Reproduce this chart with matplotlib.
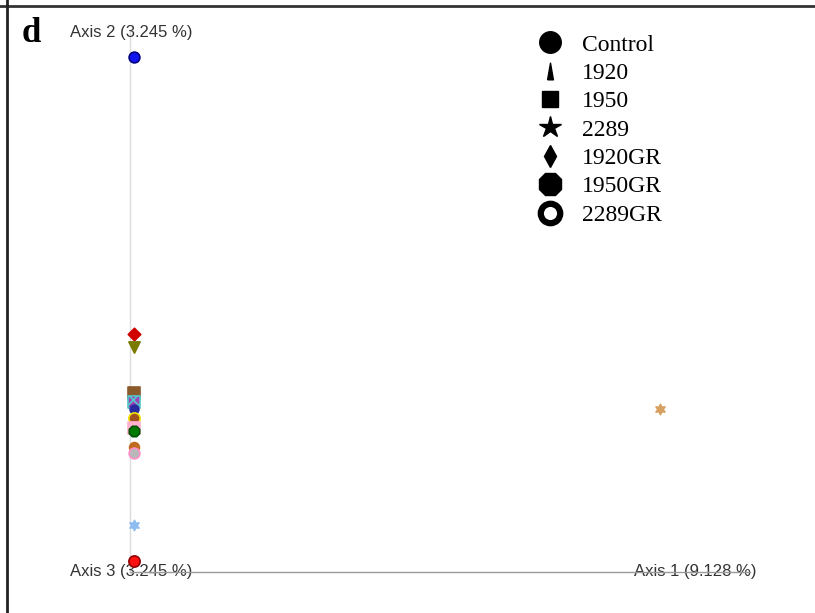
import matplotlib
matplotlib.use("Agg")
import matplotlib.pyplot as plt
from matplotlib.lines import Line2D

# PCoA sample coordinates (axis 1, axis 2)
sample_x = [0.006, 0.006, 0.006, 0.006, 0.006, 0.006, 0.006, 0.006, 0.006,
            0.006, 0.006, 0.006, 0.006, 0.855]
sample_y = [0.831, 0.384, 0.363, 0.289, 0.274, 0.263, 0.248, 0.232, 0.227,
            0.202, 0.192, 0.076, 0.018, 0.263]
sample_marker = ['o', 'D', 'v', 's', 's', 'o', 'o', 's', '8',
                 'o', 'o', (6, 1, 0), 'o', (6, 1, 0)]
sample_face = ['#1414f0', '#d00000', '#7a7a00', '#8b5a2b', '#a040b8', '#2a2aa0',
               '#a0521d', '#ffb0d0', '#007a00', '#c06a20', '#b8b8b8', '#8cbcf0',
               '#ff1010', '#d8a060']
sample_edge = ['#000080', '#d00000', '#7a7a00', '#8b5a2b', '#50c8c8', '#2a2aa0',
               '#f0e000', '#ffb0d0', '#005000', '#c06a20', '#ff90c8', '#8cbcf0',
               '#900000', '#d8a060']
sample_size = [60, 40, 65, 70, 70, 40, 65, 65, 65, 50, 60, 55, 65, 55]

legend_labels = ['Control', '1920', '1950', '2289', '1920GR', '1950GR', '2289GR']
axis_labels = ['Axis 1 (9.128 %)', 'Axis 2 (3.245 %)', 'Axis 3 (3.245 %)']

plt.rcParams['hatch.linewidth'] = 1.2

fig = plt.figure(figsize=(8.15, 6.13), dpi=100)
ax = fig.add_axes([0, 0, 1, 1])
ax.set_xlim(-130 / 620, 685 / 620)
ax.set_ylim(-41 / 620, 572 / 620)
ax.axis('off')

# axes of the ordination
ax.plot([0, 0], [0, 0.874], color='#dcdcdc', lw=1, zorder=1)
ax.plot([0, 1.0], [0, 0], color='#9a9a9a', lw=1, zorder=4)

for x, y, m, fc, ec, s in zip(sample_x, sample_y, sample_marker,
                              sample_face, sample_edge, sample_size):
    kw = {}
    if fc == '#a040b8':
        kw['hatch'] = 'x'
    ax.scatter(x, y, marker=m, s=s, facecolor=fc, edgecolor=ec,
               linewidths=1.2, zorder=3, **kw)

label_font = dict(ha='center', va='center', fontsize=12, color='#333333',
                  family='Liberation Sans')
ax.text(0.002, 0.870, axis_labels[1], **label_font)
ax.text(0.002, 0.0016, axis_labels[2], zorder=2, **label_font)
ax.text(0.911, 0.0016, axis_labels[0], zorder=2, **label_font)

# shape legend
thin_tri = [(-0.35, -1), (0.35, -1), (0, 1), (-0.35, -1)]
handles = [
    Line2D([], [], ls='None', marker='o', color='k', markersize=15.5),
    Line2D([], [], ls='None', marker=thin_tri, color='k', markersize=12),
    Line2D([], [], ls='None', marker='s', color='k', markersize=12),
    Line2D([], [], ls='None', marker='*', color='k', markersize=16),
    Line2D([], [], ls='None', marker='d', color='k', markersize=11),
    Line2D([], [], ls='None', marker='8', color='k', markersize=17),
    Line2D([], [], ls='None', marker='o', markerfacecolor='white',
           markeredgecolor='k', markeredgewidth=4.5, markersize=14),
]
leg = ax.legend(handles, legend_labels, loc='upper left',
                bbox_to_anchor=(536 / 815, 1 - 34 / 613), frameon=False,
                prop={'family': 'Liberation Serif', 'size': 17},
                handlelength=1.2, handletextpad=0.75, labelspacing=0.29,
                borderpad=0, borderaxespad=0)

fig.text(22 / 815, 1 - 33 / 613, 'd', ha='left', va='center', fontsize=25,
         fontweight='bold', family='Liberation Serif')

# panel frame lines
fig.add_artist(Line2D([0, 1], [1 - 6 / 613] * 2, color='#333333', lw=2))
fig.add_artist(Line2D([7 / 815] * 2, [0, 1], color='#222222', lw=2))

fig.savefig('out.png', dpi=100)
